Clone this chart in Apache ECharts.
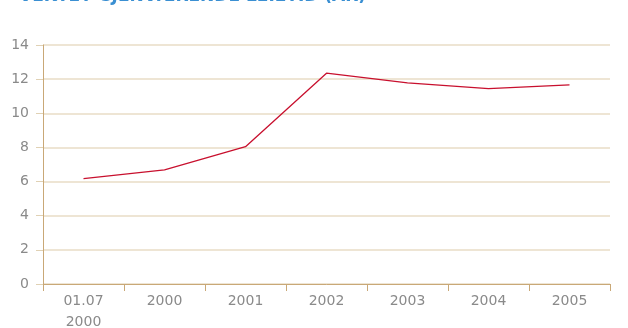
<!DOCTYPE html>
<html>
<head>
<meta charset="utf-8">
<script src="https://cdn.jsdelivr.net/npm/echarts@6/dist/echarts.min.js"></script>
<style>
  html, body { margin: 0; padding: 0; background: #fff; }
  #chart { width: 628px; height: 328px; }
</style>
</head>
<body>
<div id="chart"></div>
<script>
// Weighted remaining lease term, in years
const categories = ['01.07\n2000', '2000', '2001', '2002', '2003', '2004', '2005'];
const leaseYears = [6.17, 6.69, 8.04, 12.35, 11.78, 11.45, 11.67];
const yTicks = { min: 0, max: 14, interval: 2 };
const titleText = 'VEKTET GJENVÆRENDE LEIETID (ÅR)';
const sideText = 'Leietid';

const chart = echarts.init(document.getElementById('chart'));
const labelFont = 'DejaVu Sans';

chart.setOption({
  animation: false,
  backgroundColor: '#ffffff',
  title: {
    text: titleText,
    left: 14,
    top: -17,
    textStyle: { color: '#3a8fd2', fontSize: 17, fontWeight: 'bold', fontFamily: labelFont }
  },
  graphic: [{
    type: 'text',
    right: 76,
    top: -12,
    style: { text: sideText, fill: '#888888', fontSize: 15, fontFamily: labelFont }
  }],
  grid: { left: 43, right: 18, top: 45, bottom: 44, containLabel: false, outerBoundsMode: 'none' },
  xAxis: {
    type: 'category',
    data: categories,
    boundaryGap: true,
    axisLine: { lineStyle: { color: '#c9a877', width: 1 } },
    axisTick: { show: true, length: 7, lineStyle: { color: '#c9a877' } },
    axisLabel: { color: '#8a8a8a', fontSize: 14, fontFamily: labelFont, margin: 7, lineHeight: 21, interval: 0 },
    splitLine: { show: false }
  },
  yAxis: {
    type: 'value',
    min: yTicks.min,
    max: yTicks.max,
    interval: yTicks.interval,
    axisLine: { show: true, lineStyle: { color: '#c9a877', width: 1 } },
    axisTick: { show: true, length: 7, lineStyle: { color: '#e0d1b4' } },
    axisLabel: { color: '#8a8a8a', fontSize: 14, fontFamily: labelFont, margin: 14 },
    splitLine: { show: true, lineStyle: { color: '#e8dcc6', width: 1.5 } }
  },
  series: [{
    type: 'line',
    data: leaseYears,
    symbol: 'none',
    lineStyle: { color: '#c8102e', width: 1.3 },
    itemStyle: { color: '#c8102e' }
  }]
});
</script>
</body>
</html>
